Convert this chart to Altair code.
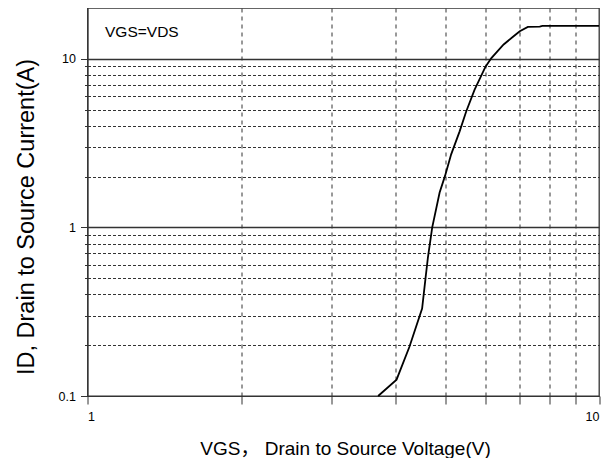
import altair as alt
import pandas as pd

# Curve (VGS in V, ID in A)
vgs = [3.70, 4.02, 4.26, 4.51, 4.58, 4.63, 4.72, 4.88, 5.00, 5.14, 5.34, 5.50,
       5.71, 6.00, 6.16, 6.51, 6.79, 7.00, 7.26, 7.66, 7.75, 10.0]
id_a = [0.100, 0.125, 0.196, 0.330, 0.50, 0.665, 1.00, 1.61, 2.02, 2.71, 3.71, 4.87,
        6.54, 8.97, 10.1, 12.15, 13.5, 14.56, 15.44, 15.5, 15.65, 15.65]

x_ticks = [1, 2, 3, 4, 5, 6, 7, 8, 9, 10]
x_labels = [1, 10]
y_ticks = [0.1, 0.2, 0.3, 0.4, 0.5, 0.6, 0.7, 0.8, 0.9,
           1, 2, 3, 4, 5, 6, 7, 8, 9, 10]
y_labels = [0.1, 1, 10]

note_text = ["VGS=VDS"]
note_x = [1.082]
note_y = [14.5]

df = pd.DataFrame({"vgs": vgs, "id": id_a})
df_note = pd.DataFrame({"x": note_x, "y": note_y, "t": note_text})

AX = "#333333"
FONT = "Liberation Sans, Noto Sans CJK SC, sans-serif"

def lab_expr(vals):
    arr = ",".join(str(v) for v in vals)
    return f"indexof([{arr}], datum.value) >= 0 ? format(datum.value, '~g') : ''"

xscale = alt.Scale(type="log", domain=[1, 10], nice=False)
yscale = alt.Scale(type="log", domain=[0.1, 20], nice=False)

x_axis = alt.Axis(
    values=x_ticks,
    labelExpr=lab_expr(x_labels),
    grid=True,
    gridDash=[4, 4],
    gridColor=AX,
    gridWidth=1,
    gridOpacity={"condition": {"test": "datum.value == 1 || datum.value == 10", "value": 0}, "value": 1},
    tickSize=8,
    tickColor=AX,
    domainColor=AX,
    labelFont=FONT,
    labelFontSize=12.5,
    labelColor="black",
    labelPadding=6,
    title="VGS， Drain to Source Voltage(V)",
    titleFont=FONT,
    titleFontSize=19,
    titleFontWeight="normal",
    titleColor="black",
    titleX=257.5,
    titleY=58,
    titleBaseline="alphabetic",
    titleAlign="center",
)

y_axis = alt.Axis(
    values=y_ticks,
    labelExpr=lab_expr(y_labels),
    grid=True,
    gridDash={"condition": {"test": "datum.value == 1 || datum.value == 10", "value": []}, "value": [3, 2]},
    gridColor=AX,
    gridWidth={"condition": {"test": "datum.value == 1 || datum.value == 10", "value": 1.3}, "value": 1},
    tickSize={"condition": {"test": "datum.value == 0.1 || datum.value == 1 || datum.value == 10", "value": 7}, "value": 3},
    tickColor=AX,
    domainColor=AX,
    labelFont=FONT,
    labelFontSize=12.5,
    labelColor="black",
    labelPadding=5,
    title="ID, Drain to Source Current(A)",
    titleFont=FONT,
    titleFontSize=23.5,
    titleFontWeight="normal",
    titleColor="black",
    titleAngle=270,
    titleX=-54.5,
    titleY=208.5,
    titleBaseline="alphabetic",
    titleAlign="center",
)

line = alt.Chart(df).mark_line(color="black", strokeWidth=1.8).encode(
    x=alt.X("vgs:Q", scale=xscale, axis=x_axis),
    y=alt.Y("id:Q", scale=yscale, axis=y_axis),
    order="vgs:Q",
)

note = alt.Chart(df_note).mark_text(
    align="left", baseline="middle", font=FONT, fontSize=15.5, color="black"
).encode(
    x=alt.X("x:Q", scale=xscale),
    y=alt.Y("y:Q", scale=yscale),
    text="t:N",
)

chart = alt.layer(line, note).properties(
    width=511.5,
    height=388,
    padding={"left": 79.5, "top": 0, "right": 6, "bottom": 62},
    autosize=alt.AutoSizeParams(type="none"),
    background="white",
).configure_view(stroke=AX, strokeWidth=1.3)

chart.save("out.html", embed_options={"renderer": "svg", "actions": False})
